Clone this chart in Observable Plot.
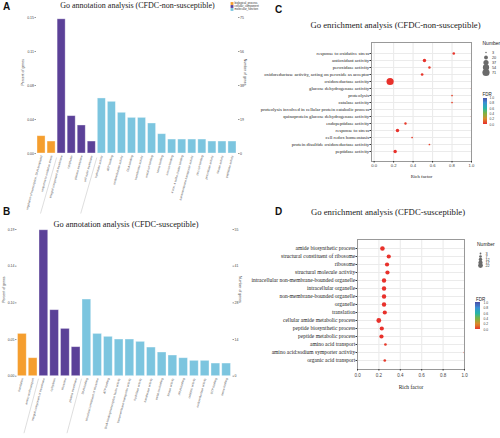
<!DOCTYPE html>
<html><head><meta charset="utf-8">
<script src="https://cdn.jsdelivr.net/npm/d3@7"></script>
<script src="https://cdn.jsdelivr.net/npm/@observablehq/plot@0.6"></script>
<style>
html,body{margin:0;padding:0;background:#fff;}
#root{position:relative;width:500px;height:438px;overflow:hidden;background:#fff;font-family:"Liberation Sans",Arial,sans-serif;}
.letter{position:absolute;font:bold 10px/1 "Liberation Sans",Arial,sans-serif;color:#111;}
.title{position:absolute;font-family:"Liberation Serif","Times New Roman",serif;line-height:1;white-space:nowrap;transform:translate(-50%,-50%);color:#222;}
.ltitle{position:absolute;font-family:"Liberation Sans",Arial,sans-serif;line-height:1;white-space:nowrap;color:#222;}
</style></head><body><div id="root"></div>
<script>
// ---------- data ----------
const groupCodes = ["BP", "CC", "MF"];
const groupNames = ["biological_process", "cellular_component", "molecular_function"];
const groupColors = ["#F59E2E", "#5B4198", "#7CC5DF"];

// Panel A: GO annotation (CFDC-non-susceptible)
const aTerms = [
  "regulation of transcription, DNA-templated", "response to oxidative stress",
  "integral component of membrane", "cytoplasm", "plasma membrane", "cell outer membrane",
  "hydrolase activity", "ATP binding", "oxidoreductase activity", "DNA binding",
  "transferase activity", "metal ion binding", "heme binding", "iron ion binding",
  "4 iron, 4 sulfur cluster binding", "transmembrane transporter activity",
  "zinc ion binding", "peroxidase activity", "kinase activity", "peptidase activity"];
const aGroup = ["BP","BP","CC","CC","CC","CC","MF","MF","MF","MF","MF","MF","MF","MF","MF","MF","MF","MF","MF","MF"];
const aPercent = [0.0191, 0.0132, 0.148, 0.0412, 0.0309, 0.0132, 0.0607, 0.057, 0.0449, 0.0393,
  0.0393, 0.0331, 0.0213, 0.0154, 0.0154, 0.0154, 0.0154, 0.0132, 0.0132, 0.0132];
const aTicks = [0, 0.0375, 0.075, 0.1125, 0.15];
const aLeftLabels = ["0.00", "0.04", "0.08", "0.11", "0.15"];
const aRightLabels = ["0", "19", "38", "56", "75"];

// Panel B: GO annotation (CFDC-susceptible)
const bTerms = [
  "translation", "amino acid transport",
  "integral component of membrane", "cytoplasm", "ribosome", "plasma membrane",
  "DNA binding", "structural constituent of ribosome", "ATP binding",
  "DNA-binding transcription factor activity", "transmembrane transporter activity",
  "hydrolase activity", "transferase activity", "metal ion binding", "kinase activity",
  "rRNA binding", "catalytic activity", "oxidoreductase activity", "GTP binding", "heme binding"];
const bGroup = ["BP","BP","CC","CC","CC","CC","MF","MF","MF","MF","MF","MF","MF","MF","MF","MF","MF","MF","MF","MF"];
const bPercent = [0.0548, 0.0233, 0.189, 0.0855, 0.0613, 0.0376, 0.0993, 0.0548, 0.051, 0.0475,
  0.0475, 0.0445, 0.0371, 0.0307, 0.0268, 0.0233, 0.0199, 0.0199, 0.0164, 0.0164];
const bTicks = [0, 0.0475, 0.095, 0.1425, 0.19];
const bLeftLabels = ["0.00", "0.05", "0.10", "0.14", "0.19"];
const bRightLabels = ["0", "14", "28", "41", "55"];

// Panel C: GO enrichment (CFDC-non-susceptible)
const cTerms = [
  "response to oxidative stress", "antioxidant activity", "peroxidase activity",
  "oxidoreductase activity, acting on peroxide as acceptor", "oxidoreductase activity",
  "glucose dehydrogenase activity", "proteolysis", "catalase activity",
  "proteolysis involved in cellular protein catabolic process",
  "quinoprotein glucose dehydrogenase activity", "endopeptidase activity",
  "response to stress", "cell redox homeostasis",
  "protein disulfide oxidoreductase activity", "peptidase activity"];
const cRich = [0.818, 0.517, 0.568, 0.493, 0.164, 1.0, 0.8, 0.8, 1.0, 1.0, 0.322, 0.24, 0.39, 0.568, 0.216];
const cNumber = [9, 16, 8, 10, 71, 3, 4, 4, 3, 3, 8, 16, 4, 4, 16];
const cFDR = [0.01, 0.0, 0.02, 0.01, 0.0, 0.03, 0.04, 0.04, 0.03, 0.03, 0.02, 0.0, 0.03, 0.04, 0.0];
const cSizeBreaks = [3, 20, 37, 54, 71];

// Panel D: GO enrichment (CFDC-susceptible)
const dTerms = [
  "amide biosynthetic process", "structural constituent of ribosome", "ribosome",
  "structural molecule activity", "intracellular non-membrane-bounded organelle",
  "intracellular organelle", "non-membrane-bounded organelle", "organelle", "translation",
  "cellular amide metabolic process", "peptide biosynthetic process",
  "peptide metabolic process", "amino acid transport",
  "amino acid:sodium symporter activity", "organic acid transport"];
const dRich = [0.233, 0.292, 0.276, 0.28, 0.248, 0.248, 0.248, 0.248, 0.255, 0.199, 0.227, 0.224, 0.261, 1.0, 0.255];
const dNumber = [20, 17, 17, 17, 18, 18, 18, 18, 17, 22, 17, 17, 7, 3, 7];
const dFDR = [0.0, 0.0, 0.0, 0.0, 0.0, 0.0, 0.0, 0.0, 0.0, 0.0, 0.0, 0.0, 0.02, 0.04, 0.02];
const dSizeBreaks = [3, 7, 12, 17, 22];

const fdrStops = [0, 0.2, 0.4, 0.6, 0.8, 1.0];
const fdrColors = ["#E8312B", "#D98A2A", "#7CB342", "#26B5A8", "#3A8FD6", "#4A4FA8"];
const richTicks = [0, 0.2, 0.4, 0.6, 0.8, 1.0];

// ---------- helpers ----------
const root = document.getElementById("root");
const SANS = "Liberation Sans, Arial, sans-serif";
const SERIF = "Liberation Serif, Times New Roman, serif";
function place(el, left, top) {
  el.style.position = "absolute";
  el.style.left = left + "px";
  el.style.top = top + "px";
  root.appendChild(el);
  return el;
}
function addDiv(cls, text, left, top, size) {
  const d = document.createElement("div");
  d.className = cls;
  d.textContent = text;
  if (size) d.style.fontSize = size + "px";
  return place(d, left, top);
}
const groupColor = {domain: groupNames, range: groupColors};
const fdrColor = {type: "linear", domain: fdrStops, range: fdrColors};

function barPanel(o) {
  const data = o.terms.map((t, i) => ({i, term: t, group: groupNames[groupCodes.indexOf(o.group[i])], pct: o.pct[i]}));
  const ymax = o.ticks[o.ticks.length - 1];
  const ppx = ymax / (o.height - o.mT - o.mB);
  const seps = d3.range(1, o.terms.length).filter(i => o.group[i] !== o.group[i - 1]);
  const fmt = labels => d => labels[o.ticks.indexOf(d)];
  const svg = Plot.plot({
    width: o.width, height: o.height,
    marginLeft: o.mL, marginRight: o.mR, marginTop: o.mT, marginBottom: o.mB,
    style: {background: "transparent", overflow: "visible", fontFamily: SANS, color: "#333"},
    x: {domain: [0, o.terms.length]},
    y: {domain: [0, ymax]},
    color: groupColor,
    marks: [
      Plot.rect(data, {x1: "i", x2: d => d.i + 1, y1: 0, y2: "pct", fill: "group",
        stroke: "#fff", strokeOpacity: 0.45, strokeWidth: 0.8, insetLeft: 1, insetRight: 1}),
      Plot.axisY({anchor: "left", ticks: o.ticks, tickFormat: fmt(o.leftLabels), tickSize: 1.5, tickPadding: 1,
        fontSize: 3.5, line: true, stroke: "#999", fill: "#444", label: null}),
      Plot.axisY({anchor: "right", ticks: o.ticks, tickFormat: fmt(o.rightLabels), tickSize: 1.5, tickPadding: 1,
        fontSize: 3.5, line: true, stroke: "#999", fill: "#444", label: null}),
      Plot.axisX({ticks: o.terms.map((_, i) => i + 0.5), tickFormat: d => o.terms[Math.floor(d)],
        tickRotate: -75, tickSize: 0, tickPadding: 2, fontSize: 3, fill: "#555", label: null}),
      Plot.link(seps, {x1: d => d, x2: d => d - o.sepShift, y1: -o.sepTop * ppx, y2: -o.sepBot * ppx,
        stroke: "#c8c8c8", strokeWidth: 0.6}),
      Plot.text(["Percent of genes"], {frameAnchor: "left", rotate: -90, dx: o.lblL, fontSize: 3.5, fill: "#444"}),
      Plot.text(["Number of genes"], {frameAnchor: "right", rotate: 90, dx: o.lblR, fontSize: 3.5, fill: "#444"})
    ]
  });
  return place(svg, o.left, o.top);
}

function enrichPanel(o) {
  const data = o.terms.map((t, i) => ({term: t, rich: o.rich[i], n: o.num[i], fdr: o.fdr[i]}));
  const svg = Plot.plot({
    width: o.width, height: o.height,
    marginLeft: o.mL, marginRight: o.mR, marginTop: o.mT, marginBottom: o.mB,
    style: {background: "transparent", overflow: "hidden", fontFamily: SANS, color: "#333"},
    x: {domain: o.xDomain},
    y: {type: "point", domain: o.terms, padding: 1},
    r: {type: "sqrt", domain: [0, o.nMax], range: [0, o.rMax]},
    color: fdrColor,
    marks: [
      Plot.gridY({stroke: "#ebebeb", strokeOpacity: 1, strokeWidth: 1.1}),
      Plot.gridX({ticks: richTicks, stroke: "#ebebeb", strokeOpacity: 1, strokeWidth: 1.1}),
      Plot.dot(data, {x: "rich", y: "term", r: "n", fill: "fdr", clip: true}),
      Plot.frame({stroke: "#999", strokeWidth: 1}),
      Plot.axisY({tickSize: 1.5, tickPadding: 0.8, fontSize: o.yFont, fontFamily: SERIF, fill: "#222", stroke: "#333", label: null}),
      Plot.axisX({ticks: richTicks, tickFormat: ".1f", tickSize: 1.5, tickPadding: o.xPad, fontSize: o.xFont, fill: "#444", stroke: "#333", label: null}),
      Plot.text(["Rich factor"], {frameAnchor: "bottom", dy: o.richDy, fontSize: o.yFont, fontFamily: SERIF, fill: "#222"})
    ]
  });
  return place(svg, o.left, o.top);
}

function sizeLegend(o) {
  const svg = Plot.plot({
    width: o.width, height: o.height, marginLeft: o.mL, marginTop: 0, marginBottom: 0, marginRight: 0,
    style: {background: "transparent", overflow: "visible", fontFamily: SANS},
    y: {type: "point", domain: o.breaks, range: o.yRange, axis: null},
    r: {type: "sqrt", domain: [0, o.nMax], range: [0, o.rMax]},
    marks: [
      Plot.dot(o.breaks, {y: d => d, r: d => d, fill: "#6a6a6a", frameAnchor: "left"}),
      Plot.text(o.breaks, {y: d => d, text: d => String(d), frameAnchor: "left", dx: o.dx, textAnchor: "start", fontSize: 3.8, fill: "#333"})
    ]
  });
  return place(svg, o.left, o.top);
}

function fdrBar(o) {
  const steps = d3.range(0, 1, 0.02);
  const svg = Plot.plot({
    width: o.width, height: o.height, marginLeft: o.mL, marginRight: o.mR, marginTop: o.mT, marginBottom: o.mB,
    style: {background: "transparent", overflow: "visible", fontFamily: SANS},
    y: {domain: [0, 1]},
    color: fdrColor,
    marks: [
      Plot.rect(steps, {y1: d => d, y2: d => Math.min(1, d + 0.021), fill: d => d + 0.01, shapeRendering: "crispEdges"}),
      Plot.axisY({anchor: "right", ticks: fdrStops, tickFormat: ".1f", tickSize: 0, tickPadding: o.pad, fontSize: 3.4, fill: "#444", label: null})
    ]
  });
  return place(svg, o.left, o.top);
}

function groupLegend(o) {
  const svg = Plot.plot({
    width: o.width, height: o.height, marginLeft: o.mL, marginTop: 0, marginBottom: 0, marginRight: 0,
    style: {background: "transparent", overflow: "visible", fontFamily: SANS},
    y: {type: "point", domain: groupNames, range: o.yRange, axis: null},
    color: groupColor,
    marks: [
      Plot.dot(groupNames, {y: d => d, fill: d => d, symbol: "square", r: 1.6, frameAnchor: "left"}),
      Plot.text(groupNames, {y: d => d, text: d => d, frameAnchor: "left", dx: 2.5, textAnchor: "start", fontSize: 2.8, fill: "#333"})
    ]
  });
  return place(svg, o.left, o.top);
}

// ---------- panels ----------
barPanel({terms: aTerms, group: aGroup, pct: aPercent, ticks: aTicks, leftLabels: aLeftLabels, rightLabels: aRightLabels,
  left: 0, top: 0, width: 250, height: 215, mL: 36, mR: 13, mT: 17, mB: 62,
  sepTop: 4, sepBot: 60, sepShift: 1.6, lblL: -14, lblR: 8});
barPanel({terms: bTerms, group: bGroup, pct: bPercent, ticks: bTicks, leftLabels: bLeftLabels, rightLabels: bRightLabels,
  left: 0, top: 215, width: 250, height: 223, mL: 16.5, mR: 18.5, mT: 14, mB: 62.3,
  sepTop: 2.5, sepBot: 57, sepShift: 1.35, lblL: -13.5, lblR: 8});
groupLegend({left: 229, top: 0, width: 40, height: 13, mL: 2.5, yRange: [1.7, 10.9]});

enrichPanel({terms: cTerms, rich: cRich, num: cNumber, fdr: cFDR,
  left: 250, top: 0, width: 250, height: 215, mL: 121, mR: 29, mT: 42, mB: 54,
  xDomain: [-0.027, 1], nMax: 71, rMax: 3.6, yFont: 4.8, xFont: 4.2, xPad: 0.8, richDy: 16});
sizeLegend({left: 480, top: 46, width: 20, height: 33, mL: 5.5, dx: 6, breaks: cSizeBreaks, nMax: 71, rMax: 3.6, yRange: [3.3, 29.3]});
fdrBar({left: 478, top: 95, width: 22, height: 32, mL: 5, mR: 13, mT: 2.5, mB: 3, pad: 2});

enrichPanel({terms: dTerms, rich: dRich, num: dNumber, fdr: dFDR,
  left: 250, top: 215, width: 250, height: 223, mL: 107, mR: 36, mT: 24, mB: 69,
  xDomain: [0, 1], nMax: 22, rMax: 2.4, yFont: 5.5, xFont: 4.5, xPad: 2.5, richDy: 19.3});
sizeLegend({left: 475, top: 246, width: 25, height: 25, mL: 5, dx: 5, breaks: dSizeBreaks, nMax: 22, rMax: 2.4, yRange: [4, 21.7]});
fdrBar({left: 470, top: 300, width: 30, height: 32, mL: 5.3, mR: 20, mT: 2.3, mB: 2.7, pad: 3});

// ---------- titles & labels ----------
addDiv("letter", "A", 3, 2);
addDiv("letter", "B", 3, 206.5);
addDiv("letter", "C", 275, 4.8);
addDiv("letter", "D", 275, 206.5);
addDiv("title", "Go annotation analysis (CFDC-non-susceptible)", 137.5, 6.3, 8);
addDiv("title", "Go annotation analysis (CFDC-susceptible)", 126, 225, 8.3);
addDiv("title", "Go enrichment analysis (CFDC-non-susceptible)", 395.5, 25, 8.7);
addDiv("title", "Go enrichment analysis (CFDC-susceptible)", 388, 212, 8.7);
addDiv("ltitle", "Number", 482.5, 41.3, 5);
addDiv("ltitle", "FDR", 482.5, 93.4, 4.5);
addDiv("ltitle", "Number", 477, 241.5, 5);
addDiv("ltitle", "FDR", 476, 297.8, 4.5);
</script></body></html>
